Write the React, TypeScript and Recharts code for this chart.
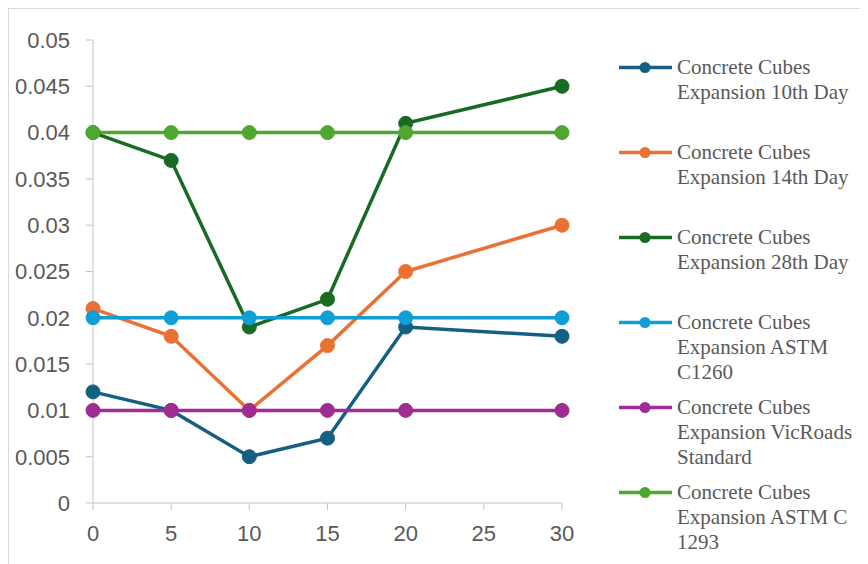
import React from 'react';
import { LineChart, Line, XAxis, YAxis } from 'recharts';

// Days at which expansion was measured
const days = [0, 5, 10, 15, 20, 30];
const xTicks = [0, 5, 10, 15, 20, 25, 30];
const yTicks = [0, 0.005, 0.01, 0.015, 0.02, 0.025, 0.03, 0.035, 0.04, 0.045, 0.05];

const day10 = [0.012, 0.01, 0.005, 0.007, 0.019, 0.018];
const day14 = [0.021, 0.018, 0.01, 0.017, 0.025, 0.03];
const day28 = [0.04, 0.037, 0.019, 0.022, 0.041, 0.045];
const astmC1260 = [0.02, 0.02, 0.02, 0.02, 0.02, 0.02];
const vicRoads = [0.01, 0.01, 0.01, 0.01, 0.01, 0.01];
const astmC1293 = [0.04, 0.04, 0.04, 0.04, 0.04, 0.04];

const series = [
  { key: 'd10', name: 'Concrete Cubes Expansion 10th Day', color: '#156082', values: day10 },
  { key: 'd14', name: 'Concrete Cubes Expansion 14th Day', color: '#E97132', values: day14 },
  { key: 'd28', name: 'Concrete Cubes Expansion 28th Day', color: '#196B24', values: day28 },
  { key: 'c1260', name: 'Concrete Cubes Expansion ASTM C1260', color: '#0F9ED5', values: astmC1260 },
  { key: 'vic', name: 'Concrete Cubes Expansion VicRoads Standard', color: '#A02B93', values: vicRoads },
  { key: 'c1293', name: 'Concrete Cubes Expansion ASTM C 1293', color: '#4EA72E', values: astmC1293 },
];

const data = days.map((x, i) => {
  const row: Record<string, number> = { x };
  series.forEach((s) => {
    row[s.key] = s.values[i];
  });
  return row;
});

const axisColor = '#c4c4c4';
const textColor = '#595959';
const tickFont = { fontSize: 22, fill: textColor, fontFamily: '"Liberation Sans", Arial, sans-serif' };

const Legend: React.FC = () => (
  <div style={{ position: 'absolute', left: 602, top: 46 }}>
    {series.map((s, i) => (
      <div
        key={s.key}
        style={{ position: 'absolute', top: i * 85, left: 0, width: 250, display: 'flex' }}
      >
        <svg width={62} height={25} style={{ flex: 'none' }}>
          <line x1={8} x2={61} y1={12.5} y2={12.5} stroke={s.color} strokeWidth={3.5} />
          <circle cx={34} cy={12.5} r={5.5} fill={s.color} />
        </svg>
        <div
          style={{
            width: 180,
            fontFamily: '"Liberation Serif", "Times New Roman", serif',
            fontSize: 21,
            lineHeight: '25px',
            color: textColor,
            marginLeft: 4,
          }}
        >
          {s.name}
        </div>
      </div>
    ))}
  </div>
);

export default function App() {
  return (
    <div
      style={{
        position: 'relative',
        width: 859,
        height: 555,
        borderTop: '1px solid #d9d9d9',
        borderLeft: '1px solid #d9d9d9',
        background: '#fff',
      }}
    >
      <LineChart
        width={859}
        height={555}
        data={data}
        margin={{ top: 31, right: 306, bottom: 0, left: 0 }}
      >
        <XAxis
          dataKey="x"
          type="number"
          domain={[0, 30]}
          ticks={xTicks}
          stroke={axisColor}
          tickSize={7}
          tickMargin={15}
          height={61}
          tick={tickFont}
        />
        <YAxis
          type="number"
          domain={[0, 0.05]}
          ticks={yTicks}
          stroke={axisColor}
          tickSize={7}
          tickMargin={16}
          width={84}
          tick={tickFont}
        />
        {series.map((s) => (
          <Line
            key={s.key}
            dataKey={s.key}
            name={s.name}
            type="linear"
            stroke={s.color}
            strokeWidth={3.5}
            dot={{ r: 7, fill: s.color, stroke: s.color, strokeWidth: 1 }}
            activeDot={false}
            isAnimationActive={false}
          />
        ))}
      </LineChart>
      <Legend />
    </div>
  );
}
